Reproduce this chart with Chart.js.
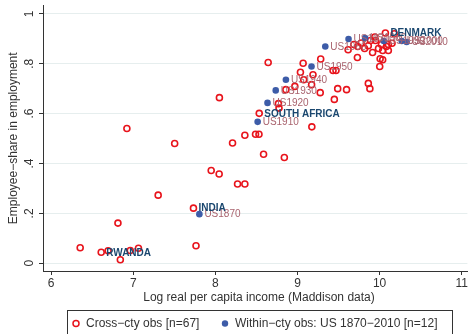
<!DOCTYPE html>
<html><head><meta charset="utf-8">
<script src="https://cdn.jsdelivr.net/npm/chart.js@4"></script>
<style>html,body{margin:0;padding:0;background:#fff}canvas{display:block}</style>
</head><body>
<canvas id="c" width="473" height="334"></canvas>
<script>
// Axis ticks
const xTicks = [6, 7, 8, 9, 10, 11];
const yTicks = [0, 0.2, 0.4, 0.6, 0.8, 1];
const yTickLabels = ['0', '.2', '.4', '.6', '.8', '1'];

// Cross-country observations (log income, employee share) without a name label
const crossIncome = [6.353, 6.813, 6.693, 6.842, 6.963, 7.063, 7.764, 7.303, 7.949, 8.046,
  8.270, 8.359, 7.504, 6.922, 8.209, 8.359, 8.489, 8.531, 8.587, 8.840,
  9.175, 8.768, 8.775, 8.049, 8.643, 9.069, 9.283, 9.036, 9.189, 9.433,
  9.469, 9.076, 9.172, 8.968, 8.859, 9.277, 9.490, 9.598, 9.449, 9.617,
  9.730, 9.776, 9.863, 9.942, 9.951, 9.987, 10.179, 10.038, 10.083, 10.107,
  10.007, 10.038, 10.002, 9.863, 9.882, 10.152, 9.818, 9.915, 10.023, 9.890,
  9.734, 10.107, 9.686];
const crossShare = [0.062, 0.161, 0.050, 0.014, 0.051, 0.060, 0.070, 0.273, 0.372, 0.358,
  0.318, 0.318, 0.480, 0.540, 0.482, 0.513, 0.517, 0.517, 0.437, 0.424,
  0.547, 0.640, 0.622, 0.664, 0.805, 0.802, 0.819, 0.766, 0.756, 0.773,
  0.773, 0.736, 0.716, 0.709, 0.696, 0.684, 0.700, 0.696, 0.657, 0.856,
  0.825, 0.883, 0.872, 0.907, 0.893, 0.861, 0.920, 0.853, 0.869, 0.877,
  0.820, 0.816, 0.789, 0.721, 0.700, 0.882, 0.861, 0.845, 0.877, 0.893,
  0.869, 0.853, 0.877];

// Cross-country observations that carry a name label
const namedCountries = ['RWANDA', 'INDIA', 'SOUTH AFRICA', 'DENMARK'];
const namedIncome = [6.609, 7.733, 8.534, 10.071];
const namedShare = [0.044, 0.221, 0.601, 0.923];

// United States over time
const usYears = [1870, 1910, 1920, 1930, 1940, 1950, 1960, 1970, 1980, 1990, 2000, 2010];
const usIncome = [7.805, 8.515, 8.635, 8.735, 8.859, 9.171, 9.339, 9.622, 9.824, 10.051, 10.270, 10.330];
const usShare = [0.197, 0.567, 0.643, 0.693, 0.736, 0.789, 0.869, 0.899, 0.903, 0.891, 0.891, 0.887];

const FONT = '"Liberation Sans", Arial, sans-serif';
const RED = '#e8141c';
const BLUE = '#3d5ca8';
const NAVY = '#1a476f';
const ROSE = '#a9636e';
const AXIS = '#333333';

const toPoints = (xs, ys) => xs.map((x, i) => ({ x: x, y: ys[i] }));
const crossPoints = toPoints(crossIncome, crossShare).concat(toPoints(namedIncome, namedShare));
const usPoints = toPoints(usIncome, usShare);

const decorations = {
  id: 'decorations',
  afterDatasetsDraw(chart) {
    const ctx = chart.ctx;
    const ys = chart.scales.y;
    const area = chart.chartArea;
    ctx.save();
    ctx.textBaseline = 'middle';

    // point labels: US years
    const usMeta = chart.getDatasetMeta(1);
    ctx.font = '10px ' + FONT;
    ctx.fillStyle = ROSE;
    ctx.textAlign = 'left';
    usMeta.data.forEach((el, i) => {
      ctx.fillText('US' + usYears[i], el.x + 5, el.y + 0.5);
    });

    // point labels: named countries
    const crossMeta = chart.getDatasetMeta(0);
    ctx.font = 'bold 10px ' + FONT;
    ctx.fillStyle = NAVY;
    namedCountries.forEach((name, i) => {
      const el = crossMeta.data[crossIncome.length + i];
      ctx.fillText(name, el.x + 5, el.y + 0.5);
    });

    // y tick labels, rotated
    ctx.font = '12px ' + FONT;
    ctx.fillStyle = AXIS;
    ctx.textAlign = 'center';
    yTicks.forEach((v, i) => {
      const py = ys.getPixelForValue(v);
      ctx.save();
      ctx.translate(30, py);
      ctx.rotate(-Math.PI / 2);
      ctx.fillText(yTickLabels[i], 0, 0);
      ctx.restore();
    });

    // axis titles
    ctx.save();
    ctx.translate(14, (area.top + area.bottom) / 2);
    ctx.rotate(-Math.PI / 2);
    ctx.fillText('Employee\u2212share in employment', 0, 0);
    ctx.restore();
    ctx.fillText('Log real per capita income (Maddison data)', 259, 298);

    // legend
    ctx.strokeStyle = AXIS;
    ctx.lineWidth = 1;
    ctx.strokeRect(67.5, 310.5, 385, 30);
    ctx.beginPath();
    ctx.arc(76, 323.5, 3, 0, Math.PI * 2);
    ctx.strokeStyle = RED;
    ctx.lineWidth = 1.5;
    ctx.stroke();
    ctx.beginPath();
    ctx.arc(225, 323.5, 3.2, 0, Math.PI * 2);
    ctx.fillStyle = BLUE;
    ctx.fill();
    ctx.fillStyle = AXIS;
    ctx.textAlign = 'left';
    ctx.fillText(chart.data.datasets[0].label, 86, 323.5);
    ctx.fillText(chart.data.datasets[1].label, 235, 323.5);
    ctx.restore();
  }
};

new Chart(document.getElementById('c'), {
  type: 'scatter',
  data: {
    datasets: [
      {
        label: 'Cross\u2212cty obs [n=67]',
        data: crossPoints,
        order: 2,
        pointStyle: 'circle',
        pointRadius: 3,
        pointBorderWidth: 1.6,
        borderColor: RED,
        backgroundColor: 'rgba(255,255,255,0)'
      },
      {
        label: 'Within\u2212cty obs: US 1870\u22122010 [n=12]',
        data: usPoints,
        order: 1,
        pointStyle: 'circle',
        pointRadius: 3.3,
        pointBorderWidth: 0,
        borderColor: BLUE,
        backgroundColor: BLUE
      }
    ]
  },
  options: {
    responsive: false,
    animation: false,
    events: [],
    layout: { padding: { top: 5, right: 0, left: 0, bottom: 0 } },
    plugins: { legend: { display: false }, tooltip: { enabled: false } },
    scales: {
      x: {
        type: 'linear',
        min: 5.9,
        max: 11.07,
        afterBuildTicks: s => { s.ticks = xTicks.map(v => ({ value: v })); },
        afterFit: s => { s.height = 63; s.paddingLeft = 0; s.paddingRight = 0; },
        ticks: { color: AXIS, font: { family: FONT, size: 12 }, padding: 1, maxRotation: 0, autoSkip: false,
                 callback: v => String(v) },
        grid: { drawOnChartArea: false, drawTicks: true, tickLength: 4, tickColor: AXIS },
        border: { display: true, color: AXIS, width: 1 }
      },
      y: {
        type: 'linear',
        min: -0.031,
        max: 1.033,
        afterBuildTicks: s => { s.ticks = yTicks.map(v => ({ value: v })); },
        afterFit: s => { s.width = 43; s.paddingTop = 0; s.paddingBottom = 0; },
        ticks: { display: false },
        grid: { color: '#e6eeee', lineWidth: 1, drawTicks: true, tickLength: 4, tickColor: AXIS },
        border: { display: true, color: AXIS, width: 1 }
      }
    }
  },
  plugins: [decorations]
});
</script>
</body></html>
